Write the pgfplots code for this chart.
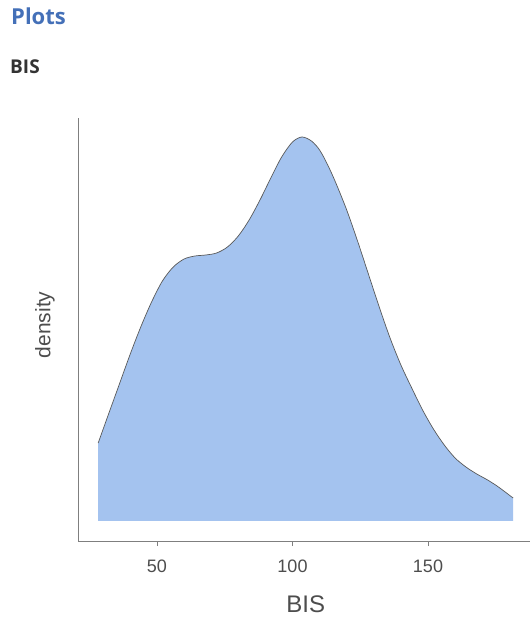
\documentclass[border=0pt]{standalone}
\usepackage{fontspec}
\setmainfont{Liberation Sans}
\newfontfamily\titlefont{Open Sans}
\usepackage{pgfplots}
\pgfplotsset{compat=1.18}
\definecolor{titleblue}{HTML}{4470B8}
\definecolor{fillblue}{HTML}{A4C3EF}
\definecolor{axisgray}{HTML}{7F7F7F}
\definecolor{textgray}{HTML}{4D4D4D}
\begin{document}
\begin{tikzpicture}[x=1pt,y=1pt]
\path[use as bounding box] (0,0) rectangle (530,618);
\node[anchor=base west, inner sep=0pt, text=titleblue] at (11,593) {\titlefont\bfseries\fontsize{22}{24}\selectfont Plots};
\node[anchor=base west, inner sep=0pt, text=black!80] at (10,544) {\titlefont\bfseries\fontsize{19}{21}\selectfont BIS};
\begin{axis}[
  at={(78pt,77pt)}, anchor=south west,
  scale only axis, width=452pt, height=423pt,
  xmin=20.85, xmax=187.64, ymin=-0.0006, ymax=0.01209,
  axis lines=left, axis line style={-, draw=axisgray, line width=0.8pt},
  xtick={50,100,150}, ytick=\empty,
  tick align=outside, major tick length=5pt,
  tick style={draw=axisgray, line width=0.8pt},
  /pgf/number format/assume math mode=true,
  xticklabel style={font=\fontsize{18}{20}\selectfont, text=textgray, anchor=base, yshift=-26pt},
  xlabel={BIS}, ylabel={density},
  xlabel style={font=\fontsize{24}{26}\selectfont, text=textgray, at={(axis description cs:0.504,-0.170)}, anchor=base},
  ylabel style={font=\fontsize{21}{23}\selectfont, text=textgray, at={(axis description cs:-0.073,0.511)}, anchor=center},
  clip=false,
]
\pgfplotstableread{
x y
28.3 0.00234
32 0.00318
36 0.00408
40 0.00498
44 0.00582
48 0.00657
52 0.00720
56 0.00762
60 0.00786
64 0.00795
68 0.00798
72 0.00804
76 0.00822
80 0.00855
84 0.00903
88 0.00963
92 0.01029
96 0.01092
100 0.01137
103.5 0.01152
107 0.01140
110 0.01113
113 0.01068
116 0.01014
120 0.00933
124 0.00840
128 0.00741
132 0.00642
136 0.00549
140 0.00468
144 0.00399
148 0.00333
152 0.00276
156 0.00228
160 0.00189
164 0.00162
168 0.00141
172 0.00123
176 0.00102
181.4 0.00069
}\densitytable
\addplot[fill=fillblue, draw=none, smooth] table[x=x,y=y] {\densitytable} \closedcycle;
\addplot[draw=black!65, line width=0.7pt, smooth] table[x=x,y=y] {\densitytable};
\end{axis}
\end{tikzpicture}
\end{document}
